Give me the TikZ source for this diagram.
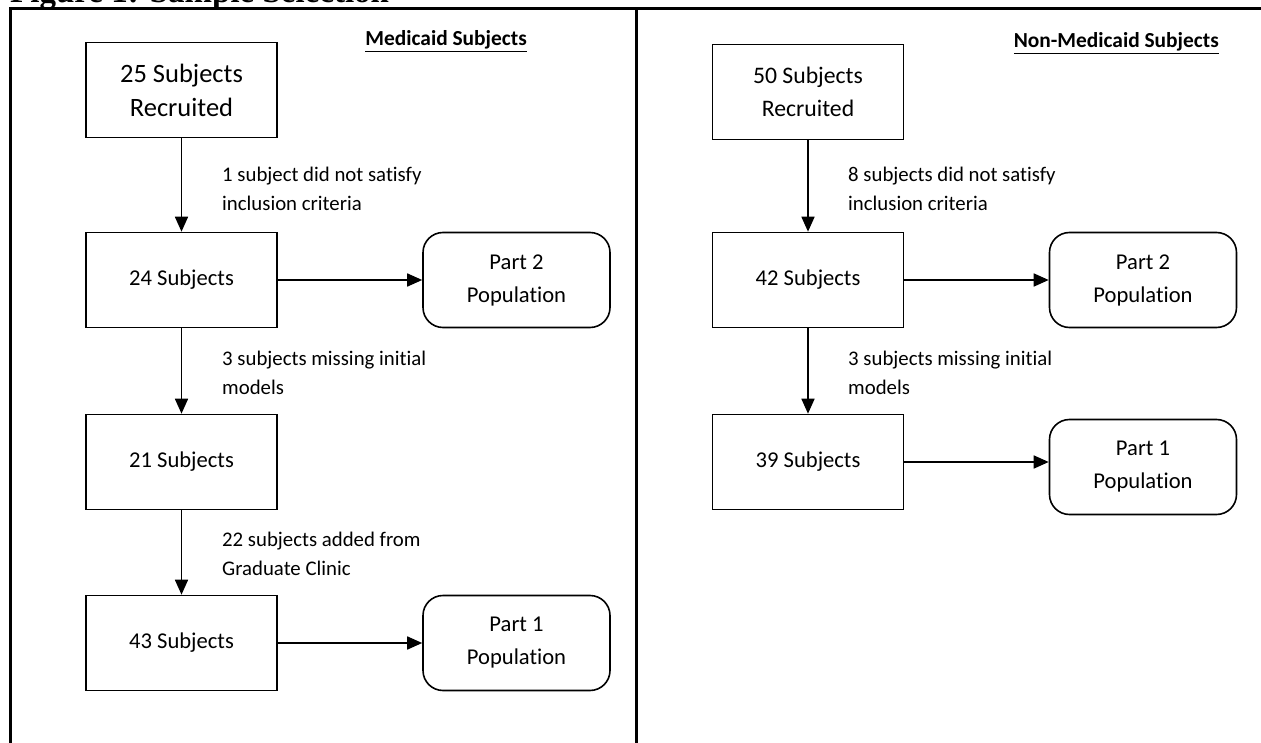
\documentclass[tikz,border=0pt]{standalone}
\usepackage{fontspec}
\setmainfont{Carlito}[Ligatures=NoCommon]
\newfontfamily\titlefont{Liberation Serif}
\usetikzlibrary{arrows.meta}
\tikzset{
  box/.style={draw, line width=1.6pt, minimum width=191pt, minimum height=95pt, align=center, inner sep=0pt, font=\fontsize{22.6}{33}\selectfont},
  popbox/.style={box, rounded corners=20pt, minimum width=187pt},
  conn/.style={line width=1.7pt, -{Triangle[length=15pt,width=13pt]}},
  lbl/.style={anchor=west, inner sep=0pt, align=left, font=\fontsize{20.8}{29}\selectfont},
  hdr/.style={inner sep=0pt, font=\fontsize{21.4}{24}\selectfont\bfseries},
  frame/.style={line width=3pt}
}
\begin{document}
\begin{tikzpicture}[x=1pt,y=-1pt]
\useasboundingbox (0,0) rectangle (1261,743);
% title (cut off at top, as in the reference)
\node[anchor=base west, inner sep=0pt, font=\fontsize{33}{33}\titlefont\bfseries] (title) at (10,3) {Figure 1: Sample Selection};
% table frame
\coordinate (tl) at (10,9);
\coordinate (tr) at (1262,9);
\coordinate (bl) at (10,744);
\coordinate (mt) at (636,9);
\coordinate (mb) at (636,744);
\draw[frame] (bl) -- (tl) -- (tr);
\draw[frame] (mt) -- (mb);
% headers
\node[hdr, anchor=east] (h1) at (527,41) {\underline{Medicaid Subjects}};
\node[hdr, anchor=east] (h2) at (1219,43) {\underline{Non-Medicaid Subjects}};
% left column
\node[box, font=\fontsize{26.5}{34}\selectfont] (a1) at (181.5,90) {25 Subjects\\Recruited};
\node[box] (a2) at (181.5,280) {24 Subjects};
\node[popbox] (p2l) at (516.5,280) {Part 2\\Population};
\node[box] (a3) at (181.5,462) {21 Subjects};
\node[box] (a4) at (181.5,643) {43 Subjects};
\node[popbox] (p1l) at (516.5,643) {Part 1\\Population};
\draw[conn] (a1) -- (a2);
\draw[conn] (a2) -- (p2l);
\draw[conn] (a2) -- (a3);
\draw[conn] (a3) -- (a4);
\draw[conn] (a4) -- (p1l);
\node[lbl] (l1) at (222,188.5) {1 subject did not satisfy\\inclusion criteria};
\node[lbl] (l2) at (222,372.5) {3 subjects missing initial\\models};
\node[lbl] (l3) at (222,553.5) {22 subjects added from\\Graduate Clinic};
% right column
\node[box, font=\fontsize{23.7}{33}\selectfont] (b1) at (808,92) {50 Subjects\\Recruited};
\node[box] (b2) at (808,280) {42 Subjects};
\node[popbox] (p2r) at (1143,280) {Part 2\\Population};
\node[box] (b3) at (808,462) {39 Subjects};
\node[popbox] (p1r) at (1143,467) {Part 1\\Population};
\draw[conn] (b1) -- (b2);
\draw[conn] (b2) -- (p2r);
\draw[conn] (b2) -- (b3);
\draw[conn] (b3) -- (b3 -| p1r.west);
\node[lbl] (l4) at (848,189) {8 subjects did not satisfy\\inclusion criteria};
\node[lbl] (l5) at (848,372.5) {3 subjects missing initial\\models};
\end{tikzpicture}
\end{document}
